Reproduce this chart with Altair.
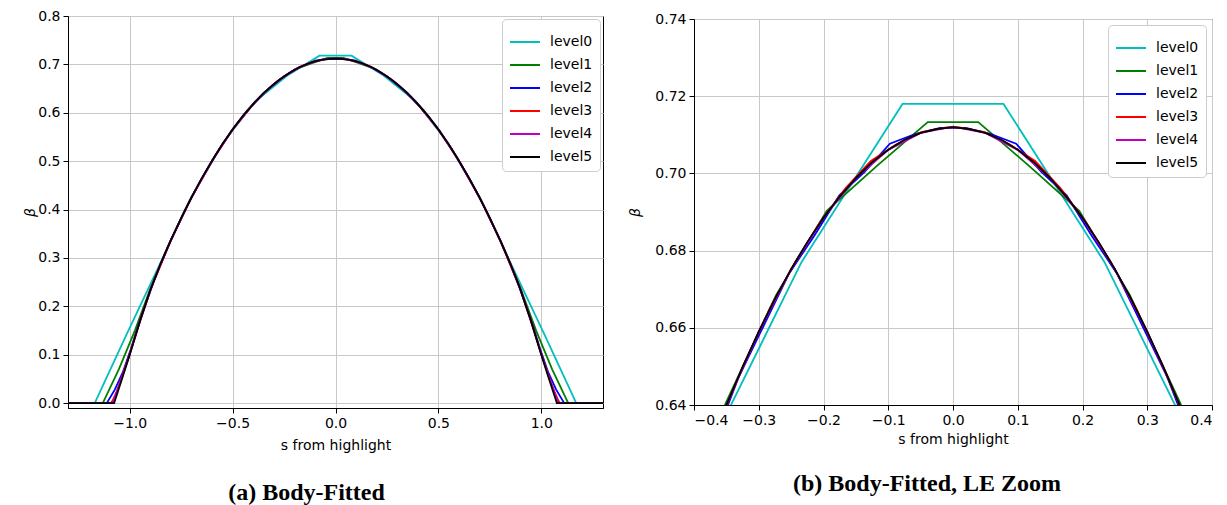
import altair as alt
import pandas as pd

LEVELS = ["level0", "level1", "level2", "level3", "level4", "level5"]
COLORS = ["#00bfbf", "#008000", "#0000ff", "#ff0000", "#bf00bf", "#000000"]

# level0 (cyan)
s0 = [-1.30, -1.17, -1.014, -0.858, -0.702, -0.546, -0.390, -0.234, -0.078,
      0.078, 0.234, 0.390, 0.546, 0.702, 0.858, 1.014, 1.17, 1.30]
b0 = [0.0, 0.0, 0.143, 0.283, 0.425, 0.538, 0.624, 0.677, 0.718,
      0.718, 0.677, 0.624, 0.538, 0.425, 0.283, 0.143, 0.0, 0.0]

# level1 (green)
s1 = [-1.30, -1.131, -1.053, -0.975, -0.897, -0.819, -0.741, -0.663, -0.585, -0.507,
      -0.429, -0.351, -0.273, -0.195, -0.117, -0.039,
      0.039, 0.117, 0.195, 0.273, 0.351, 0.429, 0.507, 0.585, 0.663, 0.741,
      0.819, 0.897, 0.975, 1.053, 1.131, 1.30]
b1 = [0.0, 0.0, 0.070, 0.150, 0.240, 0.320, 0.391, 0.4545, 0.512, 0.5625,
      0.605, 0.6405, 0.6685, 0.6903, 0.7020, 0.7133,
      0.7133, 0.7020, 0.6903, 0.6685, 0.6405, 0.605, 0.5625, 0.512, 0.4545, 0.391,
      0.320, 0.240, 0.150, 0.070, 0.0, 0.0]

# level2 (blue)
s2 = [-1.30, -1.1115, -1.0725, -1.0335, -0.9945, -0.9555, -0.8775, -0.7995, -0.7215,
      -0.6435, -0.5655, -0.4875, -0.4095, -0.3705, -0.3315, -0.2925, -0.2535, -0.2145,
      -0.1755, -0.1365, -0.0975, -0.0585, -0.0195,
      0.0195, 0.0585, 0.0975, 0.1365, 0.1755, 0.2145, 0.2535, 0.2925, 0.3315, 0.3705,
      0.4095, 0.4875, 0.5655, 0.6435, 0.7215, 0.7995, 0.8775, 0.9555, 0.9945, 1.0335,
      1.0725, 1.1115, 1.30]
b2 = [0.0, 0.0, 0.028, 0.064, 0.112, 0.165, 0.258, 0.3375, 0.407,
      0.469, 0.5245, 0.573, 0.613, 0.630, 0.647, 0.6605, 0.674, 0.6838,
      0.6943, 0.7004, 0.7077, 0.7102, 0.7118,
      0.7118, 0.7102, 0.7077, 0.7004, 0.6943, 0.6838, 0.674, 0.6605, 0.647, 0.630,
      0.613, 0.573, 0.5245, 0.469, 0.407, 0.3375, 0.258, 0.165, 0.112, 0.064,
      0.028, 0.0, 0.0]

# level3 (red)
s3 = [-1.30, -1.092, -1.0823, -1.0628, -1.0433, -1.0043, -0.95, -0.90, -0.80, -0.70,
      -0.60, -0.50, -0.40, -0.3608, -0.3218, -0.2828, -0.2438, -0.2048, -0.1658,
      -0.1268, -0.0878, -0.0488, -0.00975,
      0.00975, 0.0488, 0.0878, 0.1268, 0.1658, 0.2048, 0.2438, 0.2828, 0.3218, 0.3608,
      0.40, 0.50, 0.60, 0.70, 0.80, 0.90, 0.95, 1.0043, 1.0433, 1.0628, 1.0823, 1.092, 1.30]
b3 = [0.0, 0.0, 0.006, 0.025, 0.048, 0.096, 0.170, 0.2335, 0.337, 0.425,
      0.501, 0.5655, 0.618, 0.6355, 0.651, 0.665, 0.677, 0.6875, 0.6962,
      0.7032, 0.7075, 0.7107, 0.7119,
      0.7119, 0.7107, 0.7075, 0.7032, 0.6962, 0.6875, 0.677, 0.665, 0.651, 0.6355,
      0.618, 0.5655, 0.501, 0.425, 0.337, 0.2335, 0.170, 0.096, 0.048, 0.025, 0.006, 0.0, 0.0]

# level4 (magenta)
s4 = [-1.30, -1.083, -1.04, -1.00, -0.95, -0.90, -0.85, -0.80, -0.70, -0.60, -0.50,
      -0.40, -0.35, -0.30, -0.25, -0.20, -0.15, -0.10, -0.05, 0.0,
      0.05, 0.10, 0.15, 0.20, 0.25, 0.30, 0.35, 0.40, 0.50, 0.60, 0.70, 0.80,
      0.85, 0.90, 0.95, 1.00, 1.04, 1.083, 1.30]
b4 = [0.0, 0.0, 0.050, 0.101, 0.169, 0.2335, 0.288, 0.337, 0.425, 0.501, 0.5655,
      0.618, 0.640, 0.659, 0.6752, 0.6885, 0.6988, 0.7061, 0.7105, 0.7121,
      0.7105, 0.7061, 0.6988, 0.6885, 0.6752, 0.659, 0.640, 0.618, 0.5655, 0.501, 0.425, 0.337,
      0.288, 0.2335, 0.169, 0.101, 0.050, 0.0, 0.0]

# level5 (black)
s5 = [-1.30, -1.076, -1.04, -1.00, -0.95, -0.90, -0.85, -0.80, -0.75, -0.70, -0.65,
      -0.60, -0.55, -0.50, -0.45, -0.40, -0.375, -0.35, -0.325, -0.30, -0.275, -0.25,
      -0.225, -0.20, -0.175, -0.15, -0.125, -0.10, -0.075, -0.05, -0.025, 0.0,
      0.025, 0.05, 0.075, 0.10, 0.125, 0.15, 0.175, 0.20, 0.225, 0.25, 0.275, 0.30,
      0.325, 0.35, 0.375, 0.40, 0.45, 0.50, 0.55, 0.60, 0.65, 0.70, 0.75, 0.80, 0.85,
      0.90, 0.95, 1.00, 1.04, 1.076, 1.30]
b5 = [0.0, 0.0, 0.047, 0.100, 0.170, 0.2335, 0.288, 0.337, 0.3825, 0.425, 0.4645,
      0.501, 0.535, 0.5655, 0.5935, 0.618, 0.6293, 0.640, 0.6498, 0.659, 0.6675, 0.6752,
      0.6822, 0.6885, 0.694, 0.6988, 0.7029, 0.7061, 0.7087, 0.7105, 0.7115, 0.712,
      0.7115, 0.7105, 0.7087, 0.7061, 0.7029, 0.6988, 0.694, 0.6885, 0.6822, 0.6752, 0.6675, 0.659,
      0.6498, 0.640, 0.6293, 0.618, 0.5935, 0.5655, 0.535, 0.501, 0.4645, 0.425, 0.3825, 0.337, 0.288,
      0.2335, 0.170, 0.100, 0.047, 0.0, 0.0]

S_LISTS = [s0, s1, s2, s3, s4, s5]
B_LISTS = [b0, b1, b2, b3, b4, b5]

rows = []
for name, ss, bb in zip(LEVELS, S_LISTS, B_LISTS):
    for i, (s, b) in enumerate(zip(ss, bb)):
        rows.append({"level": name, "s": s, "beta": b, "idx": i})
df = pd.DataFrame(rows)

LEFT_X_TICKS = [-1.0, -0.5, 0.0, 0.5, 1.0]
LEFT_Y_TICKS = [0.0, 0.1, 0.2, 0.3, 0.4, 0.5, 0.6, 0.7, 0.8]
RIGHT_X_TICKS = [-0.4, -0.3, -0.2, -0.1, 0.0, 0.1, 0.2, 0.3, 0.4]
RIGHT_Y_TICKS = [0.64, 0.66, 0.68, 0.70, 0.72, 0.74]


def panel(xdom, ydom, xticks, yticks, yfmt, w, h, title, dx, xtp, ytp, toff, loff):
    legend = alt.Legend(
        title=None, orient="top-right", offset=loff, padding=7,
        fillColor="white", strokeColor="#cccccc", cornerRadius=4,
        symbolType="stroke", symbolSize=900, symbolStrokeWidth=2,
        labelFontSize=14, labelFont="DejaVu Sans", labelColor="#000000",
        rowPadding=0, labelOffset=9,
    )
    return alt.Chart(df).mark_line(clip=True, strokeWidth=1.8).encode(
        x=alt.X("s:Q", scale=alt.Scale(domain=xdom, nice=False, zero=False),
                axis=alt.Axis(values=xticks, format=".1f", title="s from highlight",
                              titlePadding=xtp)),
        y=alt.Y("beta:Q", scale=alt.Scale(domain=ydom, nice=False, zero=False),
                axis=alt.Axis(values=yticks, format=yfmt, title="β",
                              titleFontStyle="italic", titlePadding=ytp)),
        color=alt.Color("level:N", scale=alt.Scale(domain=LEVELS, range=COLORS),
                        legend=legend),
        order="idx:Q",
    ).properties(
        width=w, height=h,
        title=alt.TitleParams(title, orient="bottom", font="Liberation Serif",
                              fontWeight="bold", fontSize=24, offset=toff, dx=dx,
                              color="#000000"),
    )


left = panel([-1.3, 1.3], [-0.01, 0.8], LEFT_X_TICKS, LEFT_Y_TICKS, ".1f",
             535, 392, "(a) Body-Fitted", -29, 8, 0, 29, 3)
right = panel([-0.4, 0.4], [0.64, 0.74], RIGHT_X_TICKS, RIGHT_Y_TICKS, ".2f",
              518, 386, "(b) Body-Fitted, LE Zoom", -26, 5, 12, 26, 6)

chart = alt.hconcat(left, right, spacing=91, bounds="flush", center=True).resolve_scale(
    color="independent"
).resolve_legend(color="independent").configure_view(
    stroke="#000000", strokeWidth=1
).configure_axis(
    grid=True, gridColor="#c8c8c8", gridWidth=1,
    domainColor="#000000", tickColor="#000000", tickSize=5,
    labelFont="DejaVu Sans", labelFontSize=14, labelColor="#000000",
    titleFont="DejaVu Sans", titleFontSize=14, titleColor="#000000",
    titleFontWeight="normal", labelPadding=3,
).properties(
    padding={"left": 15, "top": 0, "right": 5, "bottom": 0},
    background="white",
)

chart.save("out.html", embed_options={"renderer": "svg", "actions": False})
